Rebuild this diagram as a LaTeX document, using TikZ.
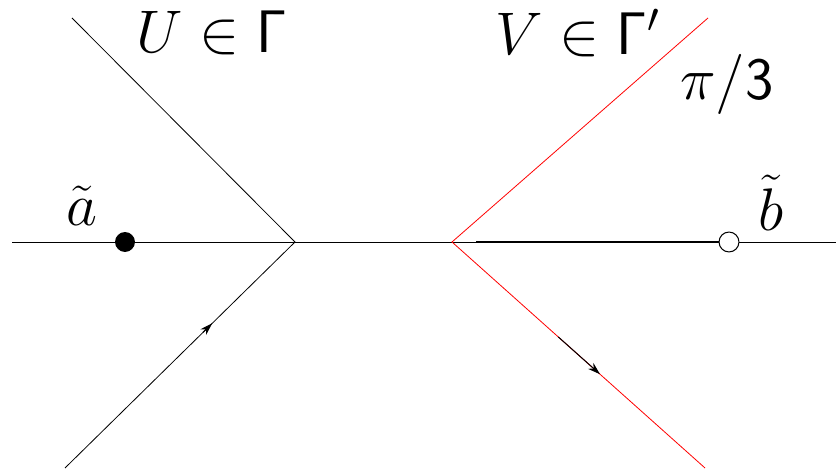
\documentclass[tikz,border=0pt]{standalone}
\usepackage{amsmath,amssymb}
\usepackage{graphicx}
\usepackage{xcolor}
\usetikzlibrary{arrows.meta,positioning,calc}
\definecolor{ink}{HTML}{000000}
\definecolor{redline}{HTML}{FF0000}
\tikzset{
  >={Stealth[length=2.2mm,width=1.4mm]},
  thinline/.style={draw=ink,line width=.4pt},
  redbranch/.style={draw=redline,line width=.4pt},
  boldline/.style={draw=ink,line width=.8pt},
  flow/.style={->,draw=ink,line width=.5pt},
  label/.style={font=\huge,inner sep=0pt},
  fullpt/.style={circle,minimum size=3.5mm,inner sep=0pt,fill=ink},
  emptypt/.style={circle,minimum size=3.5mm,inner sep=0pt,draw=ink,fill=white,line width=.5pt},
}
\newcommand{\biglab}[1]{\scalebox{1.45}{#1}}

\begin{document}
\begin{tikzpicture}[x=.5pt,y=-.5pt]
  \useasboundingbox (0,0) rectangle (836,475);
  % junctions and ends
  \coordinate (left) at (12,242);
  \coordinate (right) at (836,242);
  \coordinate (jl) at (295,242);
  \coordinate (jr) at (452,242);
  \coordinate (ul) at (72,18);
  \coordinate (ll) at (65,468);
  \coordinate (ur) at (708,18);
  \coordinate (lr) at (705,468);
  \coordinate (bstart) at (476,242);
  \path[thinline] (left) -- (right);
  \path[thinline] (ul) -- (jl) -- (ll);
  \path[redbranch] (ur) -- (jr) -- (lr);
  \node[emptypt] (b) at (729,242) {};
  \path[boldline] (bstart) -- (b.west);
  \node[fullpt] (a) at (125,242) {};
  % orientation arrows
  \draw[flow] ($(ll)!.60!(jl)$) -- ($(ll)!.64!(jl)$);
  \draw[flow] ($(jr)!.42!(lr)$) -- ($(jr)!.585!(lr)$);
  % labels
  \node[label] (U) at (212,33) {\biglab{$U\in\mathsf{\Gamma}$}};
  \node[label] (V) at (578,33) {\biglab{$V\in\mathsf{\Gamma}'$}};
  \node[label] (ang) at (727,84) {\biglab{$\pi/\mathsf{3}$}};
  \node[label] (at) at (82,206) {\biglab{$\tilde a$}};
  \node[label] (bt) at (771,203) {\biglab{$\tilde b$}};
\end{tikzpicture}
\end{document}
